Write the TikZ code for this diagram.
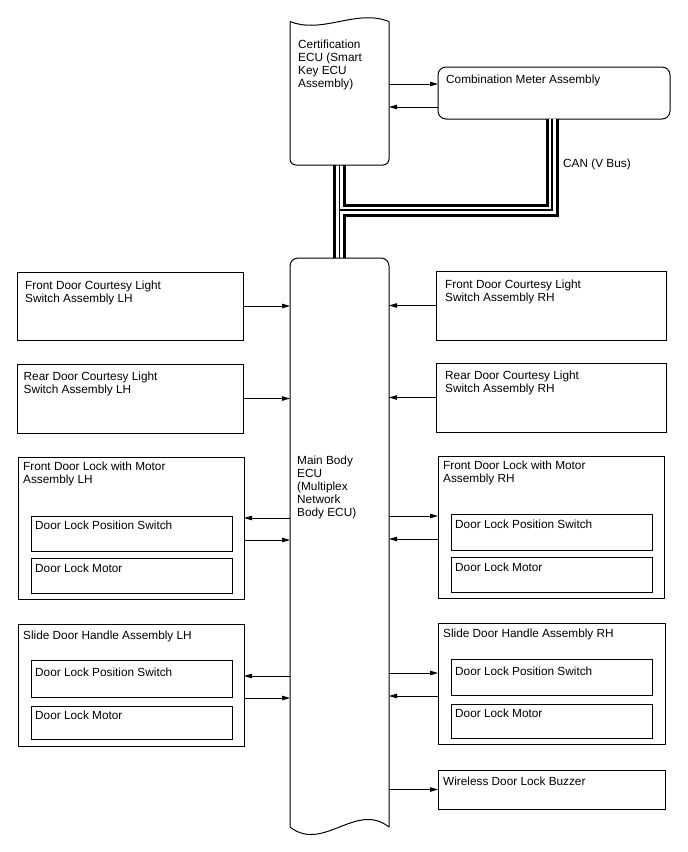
\documentclass[tikz,border=0pt]{standalone}
\usepackage{fontspec}
\setmainfont{Liberation Sans}
\usetikzlibrary{arrows.meta}
\begin{document}
\begin{tikzpicture}[x=1pt,y=-1pt,
  outline/.style={line width=1pt},
  box/.style={draw, line width=1pt, anchor=north west, inner sep=0pt, outer sep=0pt},
  ghost/.style={anchor=north west, inner sep=0pt, outer sep=0pt},
  lbl/.style={anchor=north west, inner sep=0pt, align=left, font=\fontsize{11.8}{13}\selectfont},
  arr/.style={line width=0.9pt, -{Triangle[length=8pt,width=4.5pt]}},
]
\useasboundingbox (0,0) rectangle (688,852);

% ECU shapes (invisible frames for connectors)
\node[ghost, minimum width=99pt, minimum height=143.5pt] (cert) at (290,21.5) {};
\node[ghost, minimum width=99pt, minimum height=569pt] (mb) at (290,258) {};
\node[box, rounded corners=8pt, minimum width=232pt, minimum height=52pt] (meter) at (438,67) {};

% CAN bus cable
\coordinate (j) at (339.5,210);
\coordinate (cb) at (552,119);
\foreach \w/\c in {13/black, 7/white, 1.3/black}
  \draw[line width=\w pt, \c] (cert.south -| j) -- (mb.north -| j) (j) -- (j -| cb) -- (cb);

% Certification ECU outline
\draw[outline, rounded corners=6pt] (290,21.5) -- (290,165) -- (389,165) -- (389,21.5);
\draw[outline] (290,21.5) .. controls (323,34.5) and (356,8.5) .. (389,21.5);
% Main body ECU outline
\draw[outline, rounded corners=8pt] (290,827) -- (290,258) -- (389,258) -- (389,827);
\draw[outline] (389,827) .. controls (356,801) and (323,853) .. (290,827);

% Left boxes
\node[box, minimum width=226pt, minimum height=68pt] (fclh) at (17.5,272) {};
\node[box, minimum width=226pt, minimum height=69pt] (rclh) at (17.5,364) {};
\node[box, minimum width=226pt, minimum height=142pt] (fdll) at (18,457) {};
\node[box, minimum width=201pt, minimum height=35pt] (fdll1) at (31,516) {};
\node[box, minimum width=201pt, minimum height=35pt] (fdll2) at (31,558) {};
\node[box, minimum width=226pt, minimum height=122pt] (sdll) at (18,624) {};
\node[box, minimum width=201pt, minimum height=37pt] (sdll1) at (31,660) {};
\node[box, minimum width=201pt, minimum height=33pt] (sdll2) at (31,706) {};

% Right boxes
\node[box, minimum width=230pt, minimum height=69pt] (fcrh) at (436,271) {};
\node[box, minimum width=230pt, minimum height=69pt] (rcrh) at (436,363) {};
\node[box, minimum width=226pt, minimum height=142pt] (fdlr) at (438,456) {};
\node[box, minimum width=201pt, minimum height=36pt] (fdlr1) at (451,514) {};
\node[box, minimum width=201pt, minimum height=35pt] (fdlr2) at (451,557) {};
\node[box, minimum width=227pt, minimum height=121pt] (sdlr) at (438,623) {};
\node[box, minimum width=201pt, minimum height=36pt] (sdlr1) at (451,659) {};
\node[box, minimum width=201pt, minimum height=34pt] (sdlr2) at (451,704) {};
\node[box, minimum width=227pt, minimum height=39pt] (buz) at (438,770) {};

% Labels
\node[lbl] (t-cert) at (298,39.5) {Certification\\ECU (Smart\\Key ECU\\Assembly)};
\node[lbl] (t-meter) at (446,75) {Combination Meter Assembly};
\node[lbl] (t-can) at (563,158.5) {CAN (V Bus)};
\node[lbl] (t-mb) at (297,456) {Main Body\\ECU\\(Multiplex\\Network\\Body ECU)};
\node[lbl] (t-fclh) at (25,281) {Front Door Courtesy Light\\Switch Assembly LH};
\node[lbl] (t-rclh) at (23.5,371.5) {Rear Door Courtesy Light\\Switch Assembly LH};
\node[lbl] (t-fdll) at (23,461.5) {Front Door Lock with Motor\\Assembly LH};
\node[lbl] (t-fdll1) at (35,521) {Door Lock Position Switch};
\node[lbl] (t-fdll2) at (35,563.5) {Door Lock Motor};
\node[lbl] (t-sdll) at (23,631) {Slide Door Handle Assembly LH};
\node[lbl] (t-sdll1) at (35,668) {Door Lock Position Switch};
\node[lbl] (t-sdll2) at (35,711) {Door Lock Motor};
\node[lbl] (t-fcrh) at (445,280) {Front Door Courtesy Light\\Switch Assembly RH};
\node[lbl] (t-rcrh) at (445,371) {Rear Door Courtesy Light\\Switch Assembly RH};
\node[lbl] (t-fdlr) at (443,461) {Front Door Lock with Motor\\Assembly RH};
\node[lbl] (t-fdlr1) at (455,520) {Door Lock Position Switch};
\node[lbl] (t-fdlr2) at (455,562.5) {Door Lock Motor};
\node[lbl] (t-sdlr) at (443,628.5) {Slide Door Handle Assembly RH};
\node[lbl] (t-sdlr1) at (455,666.5) {Door Lock Position Switch};
\node[lbl] (t-sdlr2) at (455,709) {Door Lock Motor};
\node[lbl] (t-buz) at (443,776.5) {Wireless Door Lock Buzzer};

% Connectors: certification ECU <-> combination meter
\draw[arr] (cert.east |- 0,84) -- (meter.west |- 0,84);
\draw[arr] (meter.west |- 0,107) -- (cert.east |- 0,107);

% Left side
\draw[arr] (fclh.east) -- (fclh.east -| mb.west);
\draw[arr] (rclh.east) -- (rclh.east -| mb.west);
\draw[arr] (mb.west |- 0,518) -- (fdll.east |- 0,518);
\draw[arr] (fdll.east |- 0,540) -- (mb.west |- 0,540);
\draw[arr] (mb.west |- 0,676) -- (sdll.east |- 0,676);
\draw[arr] (sdll.east |- 0,698) -- (mb.west |- 0,698);

% Right side
\draw[arr] (fcrh.west) -- (fcrh.west -| mb.east);
\draw[arr] (rcrh.west) -- (rcrh.west -| mb.east);
\draw[arr] (mb.east |- 0,516) -- (fdlr.west |- 0,516);
\draw[arr] (fdlr.west |- 0,539) -- (mb.east |- 0,539);
\draw[arr] (mb.east |- 0,673) -- (sdlr.west |- 0,673);
\draw[arr] (sdlr.west |- 0,696) -- (mb.east |- 0,696);
\draw[arr] (mb.east |- buz.west) -- (buz.west);
\end{tikzpicture}
\end{document}
